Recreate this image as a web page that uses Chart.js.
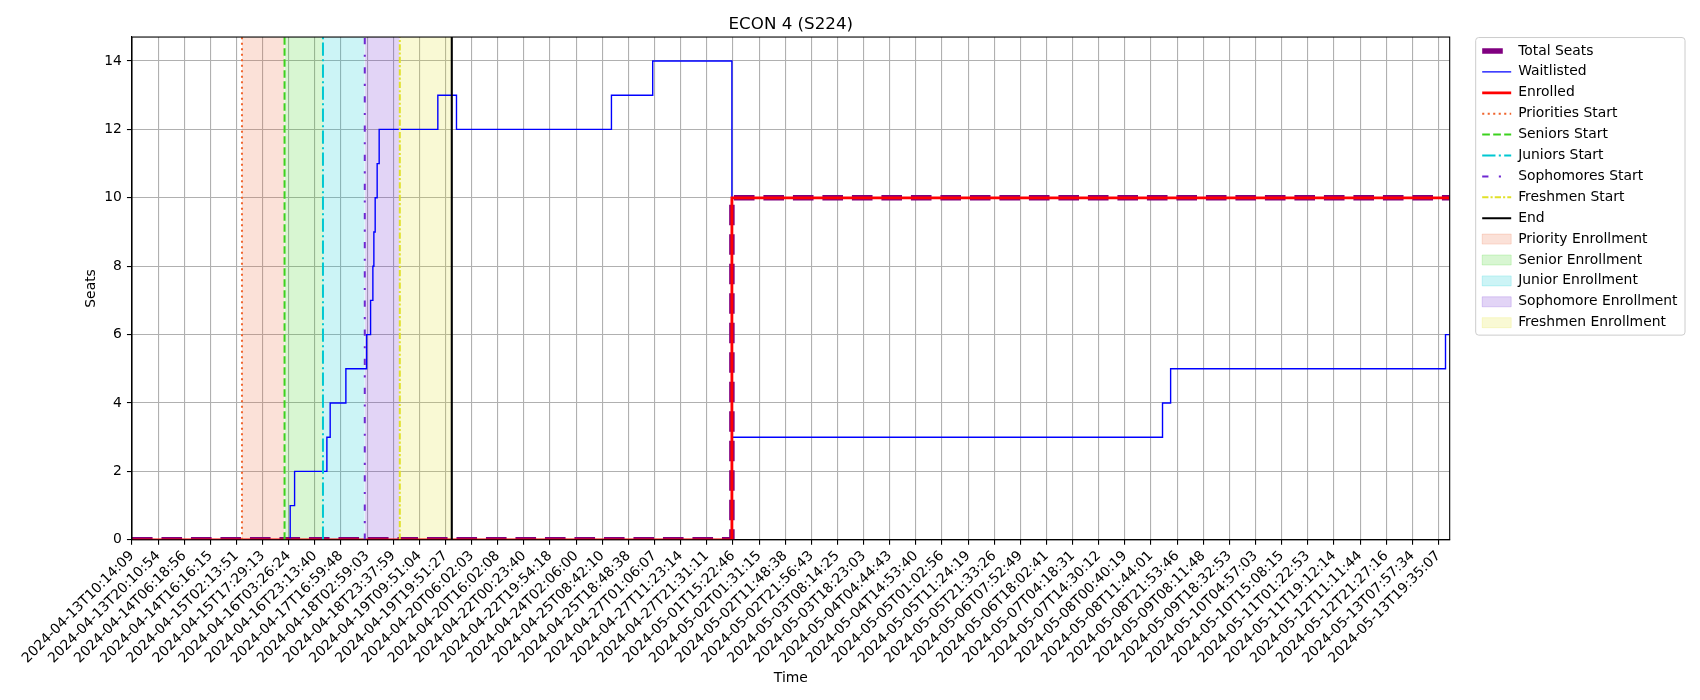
<!DOCTYPE html>
<html>
<head>
<meta charset="utf-8">
<script src="https://cdn.jsdelivr.net/npm/chart.js@4.4.0/dist/chart.umd.min.js"></script>
<style>
html,body{margin:0;padding:0;background:#ffffff;}
#wrap{width:1700px;height:700px;}
</style>
</head>
<body>
<div id="wrap"><canvas id="c" width="1700" height="700"></canvas></div>
<script>
// ---------- DATA ----------
const chartTitle = 'ECON 4 (S224)';
const tickLabels = [
  '2024-04-13T10:14:09','2024-04-13T20:10:54','2024-04-14T06:18:56','2024-04-14T16:16:15',
  '2024-04-15T02:13:51','2024-04-15T17:29:13','2024-04-16T03:26:24','2024-04-16T23:13:40',
  '2024-04-17T16:59:48','2024-04-18T02:59:03','2024-04-18T23:37:59','2024-04-19T09:51:04',
  '2024-04-19T19:51:27','2024-04-20T06:02:03','2024-04-20T16:02:08','2024-04-22T00:23:40',
  '2024-04-22T19:54:18','2024-04-24T02:06:00','2024-04-25T08:42:10','2024-04-25T18:48:38',
  '2024-04-27T01:06:07','2024-04-27T11:23:14','2024-04-27T21:31:11','2024-05-01T15:22:46',
  '2024-05-02T01:31:15','2024-05-02T11:48:38','2024-05-02T21:56:43','2024-05-03T08:14:25',
  '2024-05-03T18:23:03','2024-05-04T04:44:43','2024-05-04T14:53:40','2024-05-05T01:02:56',
  '2024-05-05T11:24:19','2024-05-05T21:33:26','2024-05-06T07:52:49','2024-05-06T18:02:41',
  '2024-05-07T04:18:31','2024-05-07T14:30:12','2024-05-08T00:40:19','2024-05-08T11:44:01',
  '2024-05-08T21:53:46','2024-05-09T08:11:48','2024-05-09T18:32:53','2024-05-10T04:57:03',
  '2024-05-10T15:08:15','2024-05-11T01:22:53','2024-05-11T19:12:14','2024-05-12T11:11:44',
  '2024-05-12T21:27:16','2024-05-13T07:57:34','2024-05-13T19:35:07'
];
// x positions are in tick-label units (position along the sample axis)
const xEnd = 50.43;
const seatsMax = 14.7;
const waitlistX = [0, 6.056, 6.224, 7.46, 7.586, 8.187, 8.979, 9.132, 9.22, 9.258, 9.308, 9.384, 9.461, 11.706, 12.42, 18.35, 19.93, 22.96, 39.44, 39.75, 50.27, 50.43];
const waitlistY = [0, 1, 2, 3, 4, 5, 6, 7, 8, 9, 10, 11, 12, 13, 12, 13, 14, 3, 4, 5, 6, 6];
const totalSeatsX = [0, 22.96, 50.43];
const totalSeatsY = [0, 10, 10];
const enrolledX = [0, 22.96, 50.43];
const enrolledY = [0, 10, 10];
const phaseLabels = ['Priorities Start', 'Seniors Start', 'Juniors Start', 'Sophomores Start', 'Freshmen Start', 'End'];
const phaseX = [4.21, 5.84, 7.31, 8.91, 10.25, 12.24];
const regionLabels = ['Priority Enrollment', 'Senior Enrollment', 'Junior Enrollment', 'Sophomore Enrollment', 'Freshmen Enrollment'];

// ---------- STYLES ----------
const phaseColors = ['rgb(240,100,45)', 'rgb(60,210,30)', 'rgb(0,200,210)', 'rgb(110,40,210)', 'rgb(225,225,40)', '#000000'];
const phaseDashes = [[2.1, 3.4], [7.7, 3.3], [13.3, 3.3, 2.1, 3.3], [6.25, 10.4, 2.1, 10.4], [6.25, 2.1, 2.1, 2.1], []];
const regionColors = ['rgba(235,105,60,0.2)', 'rgba(60,210,30,0.2)', 'rgba(0,200,210,0.2)', 'rgba(110,40,210,0.2)', 'rgba(225,225,40,0.2)'];
const FONT = 'DejaVu Sans';
const LEG_W = 29;

Chart.defaults.font.family = FONT;
Chart.defaults.color = '#000000';

const pts = (xs, ys) => xs.map((x, i) => ({x: x, y: ys[i]}));

const datasets = [];
datasets.push({label: 'Total Seats', data: pts(totalSeatsX, totalSeatsY), borderColor: 'purple', borderWidth: 5.5,
  borderDash: [20.6, 8.9], borderCapStyle: 'butt', stepped: true, pointRadius: 0, order: 4, clip: 0});
datasets.push({label: 'Waitlisted', data: pts(waitlistX, waitlistY), borderColor: '#0000ff', borderWidth: 1.4,
  stepped: true, pointRadius: 0, order: 3, clip: 0, borderJoinStyle: 'miter'});
datasets.push({label: 'Enrolled', data: pts(enrolledX, enrolledY), borderColor: '#ff0000', borderWidth: 2.8,
  stepped: true, pointRadius: 0, order: 2, clip: 0});
phaseLabels.forEach((lab, i) => {
  datasets.push({label: lab, data: [{x: phaseX[i], y: 0}, {x: phaseX[i], y: seatsMax}], borderColor: phaseColors[i],
    borderWidth: i === 5 ? 2.1 : 2, borderDash: phaseDashes[i], borderCapStyle: 'butt', pointRadius: 0, order: 1, clip: 0});
});
regionLabels.forEach((lab, i) => {
  datasets.push({label: lab, data: [{x: phaseX[i], y: seatsMax}, {x: phaseX[i + 1], y: seatsMax}],
    backgroundColor: regionColors[i], borderColor: regionColors[i], borderWidth: 0, fill: 'origin',
    pointRadius: 0, order: 10, isRegion: true});
});

const framePlugin = {
  id: 'frames',
  afterDraw(chart) {
    const ctx = chart.ctx, ca = chart.chartArea;
    ctx.save();
    ctx.strokeStyle = '#000000';
    ctx.lineWidth = 1.1;
    ctx.setLineDash([]);
    ctx.strokeRect(ca.left, ca.top, ca.right - ca.left, ca.bottom - ca.top);
    const lg = chart.legend;
    if (lg && lg.legendHitBoxes && lg.legendHitBoxes.length) {
      const hb = lg.legendHitBoxes;
      const last = hb[hb.length - 1];
      const x0 = lg.left + 0.5, y0 = lg.top + 0.5;
      const x1 = lg.right - 2.5, y1 = last.top + last.height + 5.5;
      ctx.strokeStyle = '#cccccc';
      ctx.lineWidth = 1;
      ctx.beginPath();
      if (ctx.roundRect) ctx.roundRect(x0, y0, x1 - x0, y1 - y0, 3); else ctx.rect(x0, y0, x1 - x0, y1 - y0);
      ctx.stroke();
    }
    ctx.restore();
  }
};

new Chart(document.getElementById('c'), {
  type: 'line',
  data: {datasets: datasets},
  plugins: [framePlugin],
  options: {
    responsive: false,
    animation: false,
    devicePixelRatio: 1,
    layout: {padding: {left: 82.6, right: 12.5, top: 0, bottom: 9}},
    plugins: {
      tooltip: {enabled: false},
      title: {display: true, text: chartTitle, fullSize: false, color: '#000000',
        font: {family: FONT, size: 16.7, weight: 'normal'}, padding: {top: 15, bottom: 2}},
      legend: {
        display: true, position: 'right', align: 'start', fullSize: false,
        labels: {
          usePointStyle: true, pointStyleWidth: LEG_W, boxHeight: 10, padding: 7,
          color: '#000000', font: {family: FONT, size: 13.9},
          generateLabels(chart) {
            return chart.data.datasets.map((ds, i) => ({
              text: ds.label, datasetIndex: i, hidden: false,
              fillStyle: ds.isRegion ? ds.backgroundColor : 'rgba(0,0,0,0)',
              strokeStyle: ds.borderColor,
              lineWidth: ds.isRegion ? 1 : ds.borderWidth,
              lineDash: ds.isRegion ? [] : (ds.borderDash || []),
              lineDashOffset: 0,
              lineCap: 'butt',
              pointStyle: ds.isRegion ? 'rect' : 'line',
              fontColor: '#000000'
            }));
          }
        }
      }
    },
    scales: {
      x: {
        type: 'linear', min: 0, max: xEnd,
        grid: {color: '#b0b0b0', lineWidth: 1.1, tickColor: '#000000', tickLength: 5, tickWidth: 1.1},
        border: {display: true, color: '#000000', width: 1.1},
        ticks: {stepSize: 1, autoSkip: false, includeBounds: false, maxRotation: 45, minRotation: 45,
          padding: 3, color: '#000000', font: {family: FONT, size: 13.9},
          callback: (v) => (Math.abs(v - Math.round(v)) < 1e-6 && tickLabels[Math.round(v)] !== undefined) ? tickLabels[Math.round(v)] : ''},
        title: {display: true, text: 'Time', color: '#000000', font: {family: FONT, size: 13.9}, padding: {top: 0.5, bottom: 4}}
      },
      y: {
        type: 'linear', min: 0, max: seatsMax, position: 'left',
        grid: {color: '#b0b0b0', lineWidth: 1.1, tickColor: '#000000', tickLength: 5, tickWidth: 1.1},
        border: {display: true, color: '#000000', width: 1.1},
        ticks: {stepSize: 2, includeBounds: false, padding: 5, color: '#000000', font: {family: FONT, size: 13.9}},
        title: {display: true, text: 'Seats', color: '#000000', font: {family: FONT, size: 13.9}, padding: {top: 0, bottom: 0}}
      },
      ySpacer: {
        type: 'linear', position: 'right', min: 0, max: 1, display: true,
        grid: {display: false, drawTicks: false}, border: {display: false},
        ticks: {display: false},
        afterFit(scale) { scale.width = 25.5; }
      }
    }
  }
});
</script>
</body>
</html>
